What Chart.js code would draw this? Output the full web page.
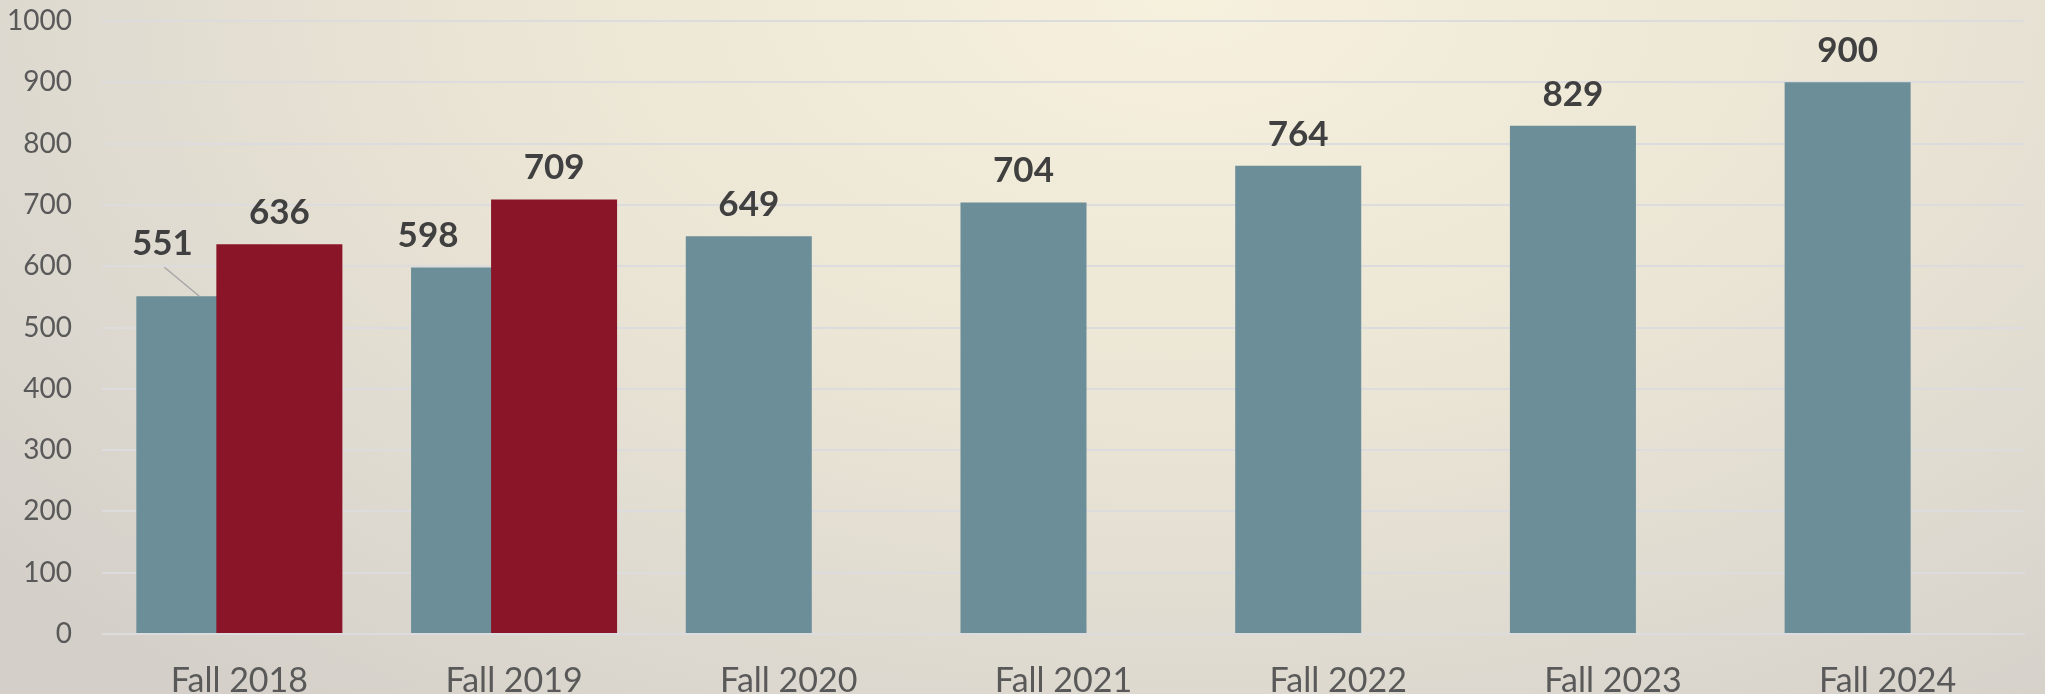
<!DOCTYPE html>
<html>
<head>
<meta charset="utf-8">
<script src="https://cdn.jsdelivr.net/npm/chart.js@4.4.1/dist/chart.umd.min.js"></script>
<style>
  html, body { margin: 0; padding: 0; overflow: hidden; }
  #wrap {
    width: 2045px; height: 694px; position: relative;
    background: radial-gradient(ellipse 75% 130% at 58% 0%, #f6f1dd 0%, #ebe5d5 45%, #dcd8cf 80%, #d4d0c9 100%);
  }
</style>
</head>
<body>
<div id="wrap"><canvas id="enrollChart"></canvas></div>
<script>
// Enrollment by fall term
const terms = ['Fall 2018', 'Fall 2019', 'Fall 2020', 'Fall 2021', 'Fall 2022', 'Fall 2023', 'Fall 2024'];
const enrolled = [551, 598, 649, 704, 764, 829, 900];
const comparison = [636, 709, null, null, null, null, null];
const yTicks = [0, 100, 200, 300, 400, 500, 600, 700, 800, 900, 1000];

const BLUE = '#6c8e99';
const RED = '#8a1528';
const FONT = 'Lato, "Open Sans", sans-serif';

// label nudges for blue bars partly hidden behind red ones
const labelNudge = { 0: { dx: -37, dy: -21, leader: true }, 1: { dx: -46, dy: 0 } };

// draw blue bars underneath the red ones
const underlayPlugin = {
    id: 'underlay',
    beforeDatasetsDraw(chart) {
        chart.getDatasetMeta(0).controller.draw();
    },
    beforeDatasetDraw(chart, args) {
        if (args.index === 0) return false;
    }
};

const valueLabels = {
    id: 'valueLabels',
    afterDatasetsDraw(chart) {
        const ctx = chart.ctx;
        ctx.save();
        ctx.font = 'bold 35px ' + FONT;
        ctx.fillStyle = '#404040';
        ctx.textAlign = 'center';
        ctx.textBaseline = 'alphabetic';
        chart.data.datasets.forEach((ds, di) => {
            const meta = chart.getDatasetMeta(di);
            meta.data.forEach((bar, i) => {
                const v = ds.data[i];
                if (v === null || v === undefined) return;
                let x = bar.x, y = bar.y - 20;
                const n = di === 0 ? labelNudge[i] : null;
                if (n) {
                    x += n.dx; y += n.dy;
                    if (n.leader) {
                        ctx.strokeStyle = '#a6a6a6';
                        ctx.lineWidth = 1.5;
                        ctx.beginPath();
                        ctx.moveTo(x + 2, y + 12);
                        ctx.lineTo(bar.x, bar.y);
                        ctx.stroke();
                    }
                }
                ctx.fillText(v, x, y);
            });
        });
        ctx.restore();
    }
};

new Chart(document.getElementById('enrollChart'), {
    type: 'bar',
    data: {
        labels: terms,
        datasets: [
            { label: 'Enrolled', data: enrolled, backgroundColor: BLUE, categoryPercentage: 0.5825, barPercentage: 1.575 },
            { label: 'Comparison', data: comparison, backgroundColor: RED, categoryPercentage: 0.5825, barPercentage: 1.575 }
        ]
    },
    options: {
        responsive: true,
        maintainAspectRatio: false,
        animation: false,
        layout: { padding: { top: 21, right: 20, left: 0, bottom: 0 } },
        plugins: { legend: { display: false }, tooltip: { enabled: false } },
        scales: {
            x: {
                grid: { display: false },
                border: { display: false },
                ticks: { color: '#595959', font: { family: FONT, size: 34 }, padding: 19 },
                afterFit: s => { s.height = 60; }
            },
            y: {
                min: 0, max: 1000,
                afterBuildTicks: s => { s.ticks = yTicks.map(v => ({ value: v })); },
                grid: { color: '#dcdcdf', lineWidth: 2, drawTicks: false },
                border: { display: false },
                ticks: { color: '#595959', font: { family: FONT, size: 28 }, padding: 30, callback: v => String(v) },
                afterFit: s => { s.width = 102; s.paddingTop = 0; s.paddingBottom = 0; }
            }
        }
    },
    plugins: [underlayPlugin, valueLabels]
});
</script>
</body>
</html>
